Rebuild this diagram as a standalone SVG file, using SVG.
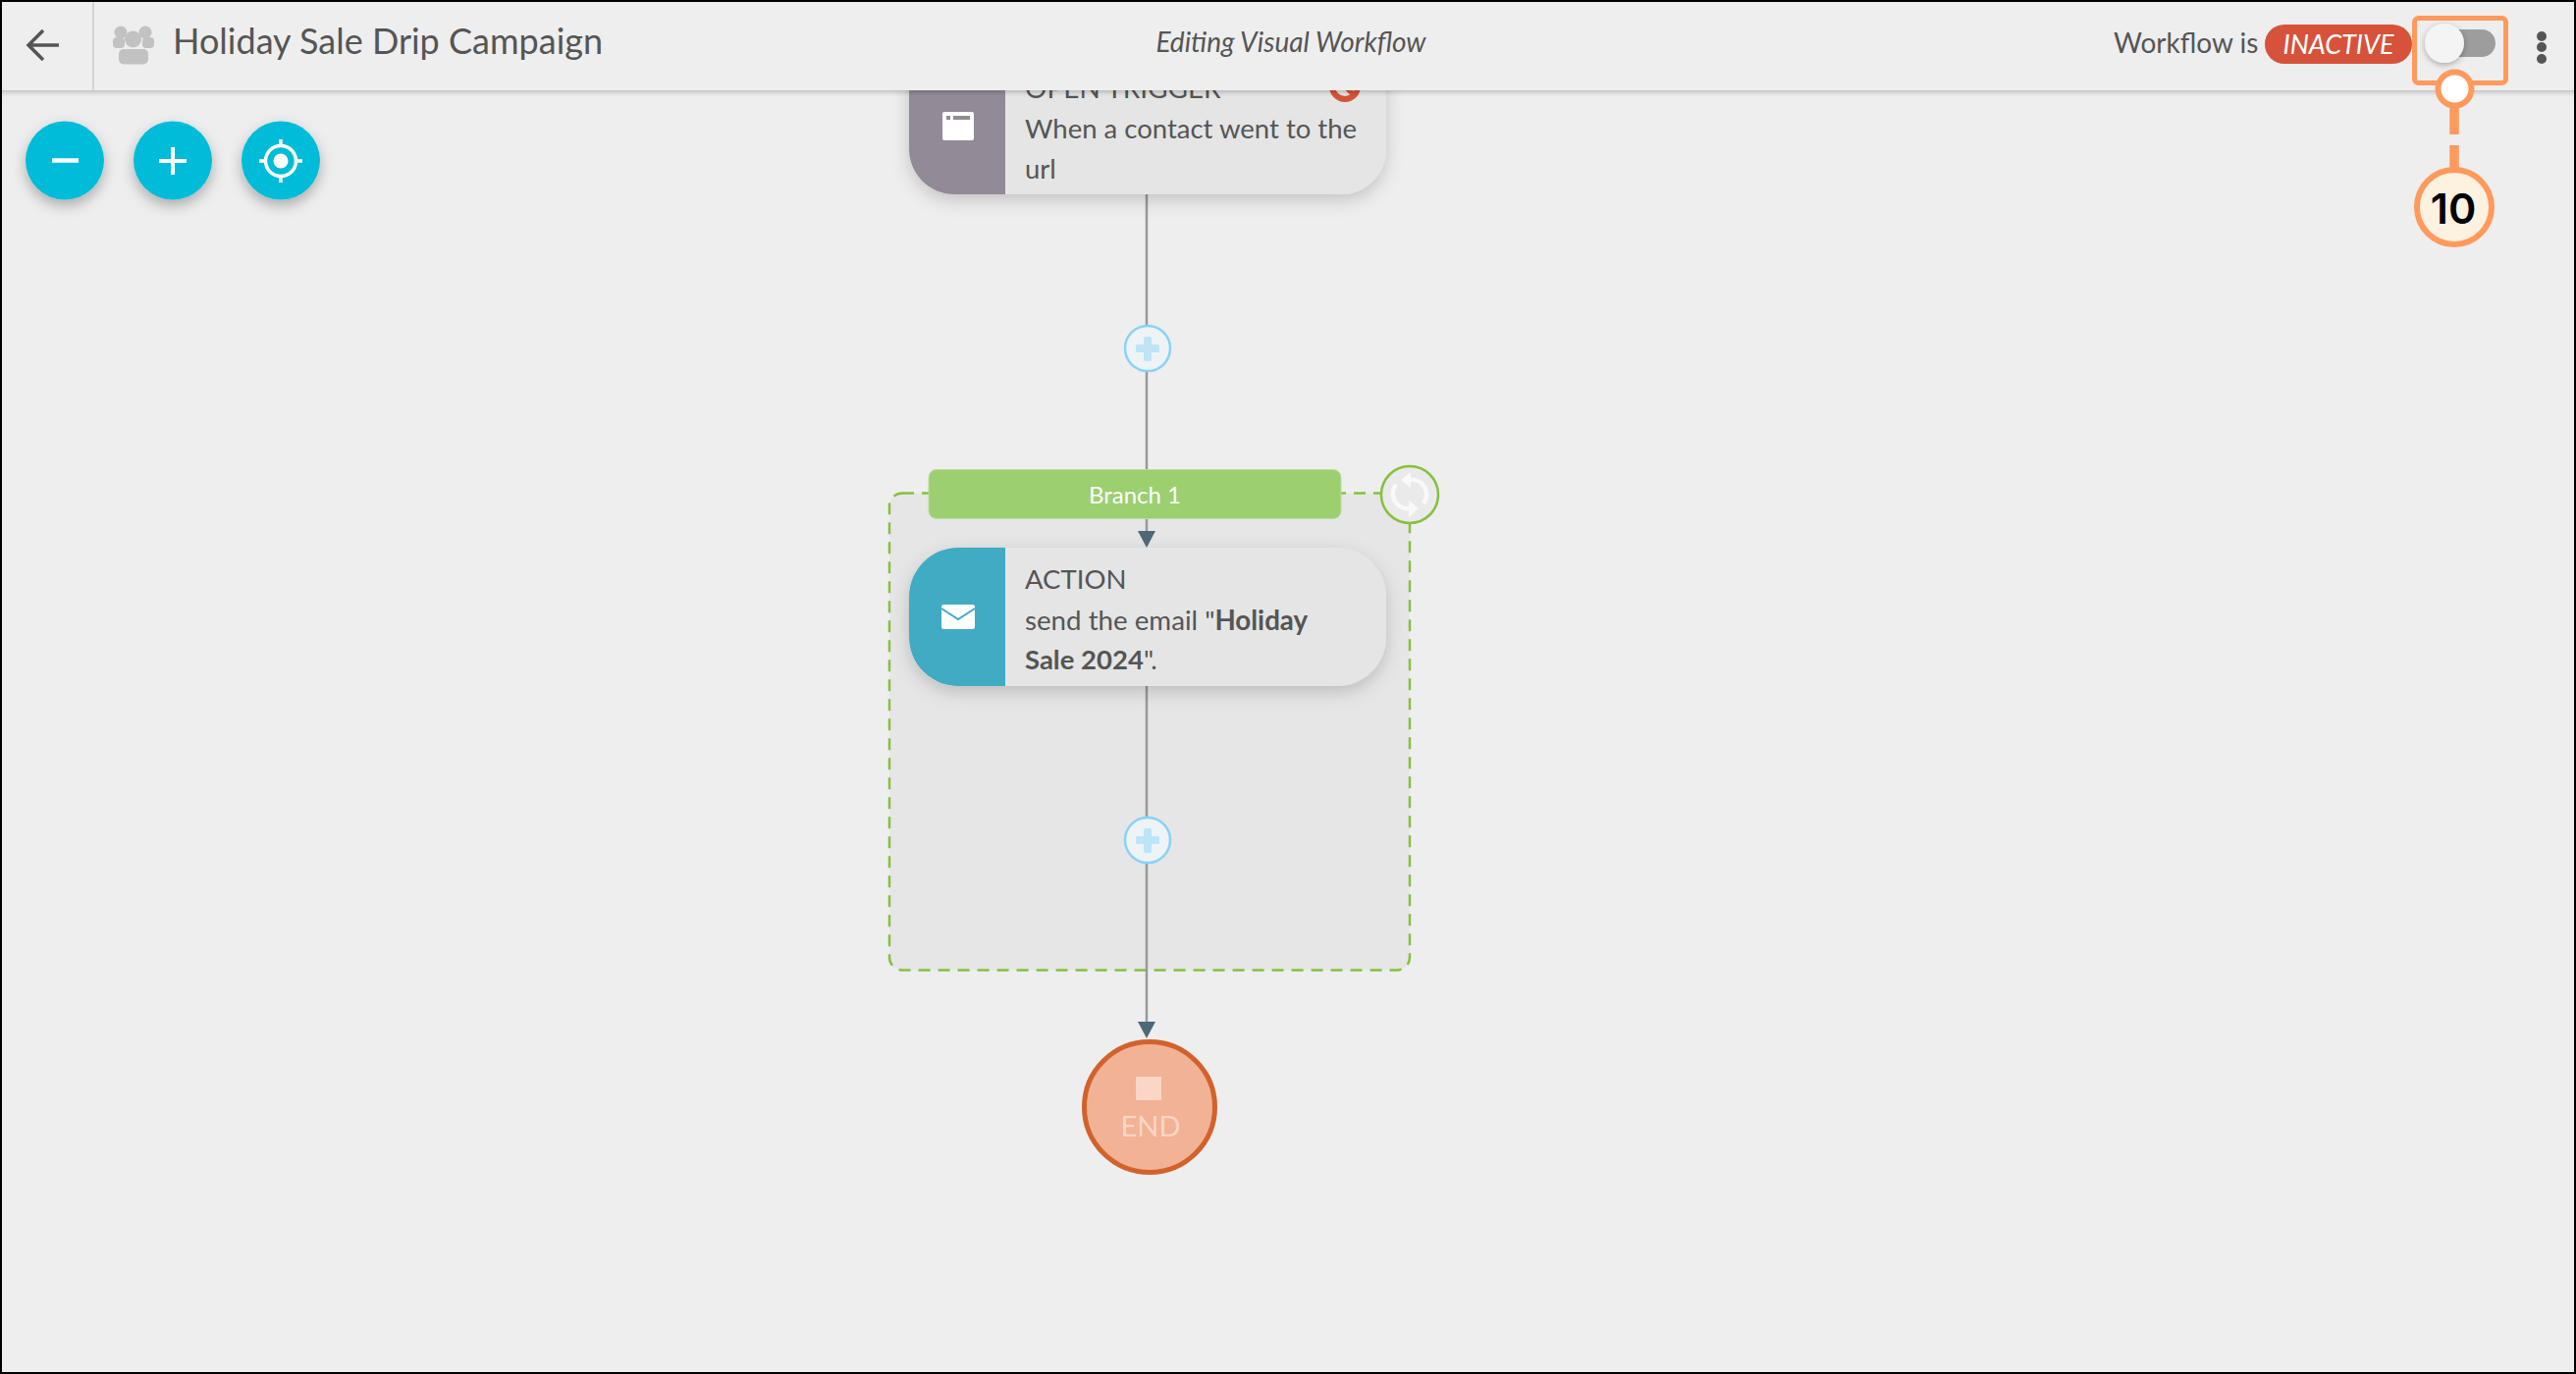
<svg xmlns="http://www.w3.org/2000/svg" width="2624" height="1400" viewBox="0 0 2624 1400">
<style>
text{font-family:Lato,"Open Sans","Liberation Sans",sans-serif;fill:#555}
.card{fill:#e5e5e5}
.body{font-size:27.5px}
.conn{stroke:#999;stroke-width:2.5;fill:none}
.arrow{fill:#4f6878}
.plus{fill:#eef3f6;stroke:#87d3f8;stroke-width:2.5}
.plusbar{fill:#bde5f7}
.zoombtn{fill:#03bcd8;filter:url(#btnShadow)}
.ico{stroke:#fff;fill:none}
.orange{stroke:#ff9a5c;fill:none}
</style>
<defs>
<filter id="btnShadow" x="-40%" y="-40%" width="180%" height="190%"><feDropShadow dx="0" dy="6" stdDeviation="7" flood-color="#000" flood-opacity=".28"/></filter>
<filter id="cardShadow" x="-10%" y="-20%" width="120%" height="150%"><feDropShadow dx="0" dy="6" stdDeviation="9" flood-color="#000" flood-opacity=".18"/></filter>
<filter id="headShadow" x="-1%" y="-20%" width="102%" height="150%"><feDropShadow dx="0" dy="2" stdDeviation="2.5" flood-color="#000" flood-opacity=".22"/></filter>
<filter id="knobShadow" x="-40%" y="-40%" width="180%" height="180%"><feDropShadow dx="0" dy="2" stdDeviation="3" flood-color="#000" flood-opacity=".3"/></filter>
</defs>
<rect width="2624" height="1400" fill="#eeeeee"/>

<g id="branch-frame">
<rect x="906" y="502.5" width="530" height="486" rx="13" fill="#e6e6e6" stroke="#85c13d" stroke-width="2.5" stroke-dasharray="12 8"/>
</g>

<g id="connectors">
<line class="conn" x1="1168" y1="198" x2="1168" y2="332"/>
<line class="conn" x1="1168" y1="378" x2="1168" y2="480"/>
<line class="conn" x1="1168" y1="528" x2="1168" y2="542"/>
<polygon class="arrow" points="1159,541 1177,541 1168,558"/>
<line class="conn" x1="1168" y1="699" x2="1168" y2="833"/>
<line class="conn" x1="1168" y1="879" x2="1168" y2="1042"/>
<polygon class="arrow" points="1159,1041 1177,1041 1168,1058"/>
</g>

<g id="node-open-trigger">
<rect class="card" x="926" y="40" width="486" height="158" rx="46" filter="url(#cardShadow)"/>
<path d="M926 40H1024V198H972A46 46 0 0 1 926 152Z" fill="#928a96"/>
<rect x="960" y="114" width="32" height="29" rx="2" fill="#fff"/>
<rect x="964" y="118" width="4" height="4" fill="#928a96"/>
<rect x="971" y="118" width="17" height="4" fill="#928a96"/>
<text class="body" x="1044" y="100" style="font-size:28px">OPEN TRIGGER</text>
<circle cx="1370" cy="88" r="13" fill="none" stroke="#d65339" stroke-width="6"/>
<line x1="1361" y1="79" x2="1379" y2="97" stroke="#d65339" stroke-width="5"/>
<text class="body" x="1044" y="141">When a contact went to the</text>
<text class="body" x="1044" y="182">url</text>
</g>

<g id="node-add-1">
<circle class="plus" cx="1169" cy="355" r="23"/>
<rect class="plusbar" x="1165" y="343" width="8" height="25" rx="1.5"/>
<rect class="plusbar" x="1157" y="351" width="24" height="8" rx="1.5"/>
</g>

<g id="node-branch">
<rect x="946" y="478.5" width="420" height="50" rx="8" fill="#9ccf70" stroke="#bbdca0" stroke-width="1"/>
<text x="1156" y="513" text-anchor="middle" font-size="24" style="fill:#fff">Branch 1</text>
</g>

<g id="node-branch-toggle">
<circle cx="1436" cy="504" r="29" fill="#eaeaea" stroke="#85c13d" stroke-width="2.5"/>
<g opacity=".75">
<path d="M1436 489A15 15 0 0 1 1450 513M1436 518A15 15 0 0 1 1422 494" fill="none" stroke="#fff" stroke-width="4.5"/>
<path d="M1427 489L1437 481V497Z M1445 518L1435 510V527Z" fill="#fff"/>
</g>
</g>

<g id="node-action">
<rect class="card" x="926" y="558" width="486" height="141" rx="50" filter="url(#cardShadow)"/>
<path d="M1024 558H976A50 50 0 0 0 926 608V649A50 50 0 0 0 976 699H1024Z" fill="#41abc4"/>
<rect x="959" y="616" width="34" height="25" rx="2.5" fill="#fff"/>
<path d="M959 620L976 631L993 620" fill="none" stroke="#41abc4" stroke-width="2"/>
<text class="body" x="1044" y="600">ACTION</text>
<text class="body" x="1044" y="642" style="font-size:27.7px">send the email "<tspan font-weight="700">Holiday</tspan></text>
<text class="body" x="1044" y="682"><tspan font-weight="700">Sale 2024</tspan>".</text>
</g>

<g id="node-add-2">
<circle class="plus" cx="1169" cy="856" r="23"/>
<rect class="plusbar" x="1165" y="844" width="8" height="25" rx="1.5"/>
<rect class="plusbar" x="1157" y="852" width="24" height="8" rx="1.5"/>
</g>

<g id="node-end">
<circle cx="1171" cy="1128" r="66.5" fill="#f2b295" stroke="#d2622b" stroke-width="5"/>
<rect x="1157" y="1097" width="26" height="24" fill="#fad6c7"/>
<text x="1172" y="1158" text-anchor="middle" font-size="29" style="fill:#fad6c7">END</text>
</g>

<g id="header">
<rect x="0" y="0" width="2624" height="92" fill="#eeeeee" filter="url(#headShadow)"/>
<line x1="95" y1="2" x2="95" y2="92" stroke="#d4d4d4" stroke-width="2"/>
<path d="M60 46H30M44 31L29 46L44 61" fill="none" stroke="#555" stroke-width="3.5"/>
<g id="group-icon" fill="#c2c2c2">
<circle cx="123" cy="33" r="6.5"/><circle cx="148" cy="33" r="6.5"/>
<rect x="115" y="38" width="12" height="11" rx="4"/><rect x="145" y="38" width="12" height="11" rx="4"/>
<circle cx="135.500" cy="40" r="8.500"/>
<rect x="121" y="50" width="30" height="15.500" rx="5"/>
</g>
<text x="176" y="55" font-size="36">Holiday Sale Drip Campaign</text>
<text x="1315" y="52.500" font-size="28" font-style="italic" text-anchor="middle">Editing Visual Workflow</text>
<text x="2153" y="54" font-size="28">Workflow is</text>
<rect x="2307" y="25" width="150" height="40" rx="20" fill="#d6523a"/>
<text x="2382" y="55" font-size="27" font-style="italic" text-anchor="middle" style="fill:#fff">INACTIVE</text>
<rect x="2480" y="30" width="62" height="28" rx="14" fill="#9d9d9d"/>
<circle cx="2490" cy="44" r="20" fill="#f4f4f4" filter="url(#knobShadow)"/>
<circle cx="2589" cy="37" r="5" fill="#555"/><circle cx="2589" cy="48" r="5" fill="#555"/><circle cx="2589" cy="60" r="5" fill="#555"/>
</g>

<g id="zoom-controls">
<circle class="zoombtn" cx="66" cy="163.500" r="40"/>
<line class="ico" x1="53" y1="163.500" x2="80" y2="163.500" stroke-width="4.500"/>
<circle class="zoombtn" cx="176" cy="163.500" r="40"/>
<path class="ico" d="M162 164H190M176 150V178" stroke-width="4"/>
<circle class="zoombtn" cx="286" cy="163.500" r="40"/>
<circle class="ico" cx="286" cy="164" r="15.500" stroke-width="3.500"/>
<circle cx="286" cy="164" r="7.500" fill="#fff"/>
<path class="ico" d="M286 142V149M286 178V186M264 164H271M301 164H308" stroke-width="3.500"/>
</g>

<g id="callout-10">
<rect class="orange" x="2459.500" y="18.500" width="93" height="66" rx="4" stroke-width="5"/>
<path class="orange" d="M2500 105V137M2500 148V172" stroke-width="9.500"/>
<circle cx="2500.500" cy="90.500" r="17" fill="#fff" stroke="#ff9a5c" stroke-width="6"/>
<circle cx="2500" cy="211" r="38" fill="#fdf1e0" stroke="#ff9a5c" stroke-width="6"/>
<text x="2499" y="228" font-size="43" text-anchor="middle" style="font-family:Inter,'Liberation Sans',sans-serif;fill:#000;font-weight:600">10</text>
</g>

<rect id="frame" x="1" y="1" width="2622" height="1398" fill="none" stroke="#000" stroke-width="2"/>
</svg>
